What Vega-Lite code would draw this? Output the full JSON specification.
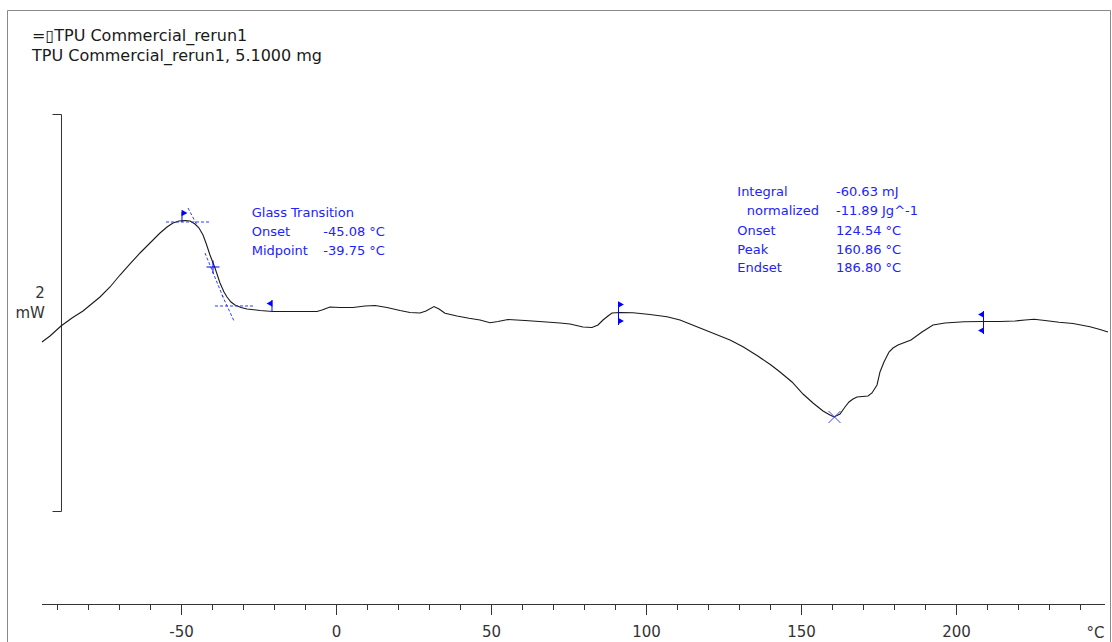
{
  "$schema": "https://vega.github.io/schema/vega-lite/v6.json",
  "width": 1103,
  "height": 632,
  "padding": {"left": 7, "top": 10, "right": 2, "bottom": 0},
  "autosize": {"type": "none"},
  "background": "white",
  "config": {"view": {"stroke": "#8a8a8a", "strokeWidth": 1}},
  "title": {
    "text": ["=▯TPU Commercial_rerun1", "TPU Commercial_rerun1, 5.1000 mg"],
    "anchor": "start", "frame": "group", "orient": "top", "offset": -45,
    "baseline": "top", "dx": 25, "dy": 9,
    "font": "DejaVu Sans", "fontSize": 16, "fontWeight": "normal", "color": "#1a1a1a", "lineHeight": 20
  },
  "datasets": {
    "curve": [
      {"t": -94.84, "v": -0.1461}, {"t": -92.26, "v": -0.1159}, {"t": -88.71, "v": -0.0655}, {"t": -85.16, "v": -0.0252},
      {"t": -81.61, "v": 0.0101}, {"t": -76.13, "v": 0.0806}, {"t": -72.90, "v": 0.1310}, {"t": -69.68, "v": 0.1914},
      {"t": -66.45, "v": 0.2469}, {"t": -63.23, "v": 0.3023}, {"t": -60.00, "v": 0.3526}, {"t": -56.77, "v": 0.4030},
      {"t": -54.52, "v": 0.4332}, {"t": -52.58, "v": 0.4534}, {"t": -50.65, "v": 0.4635}, {"t": -48.71, "v": 0.4660},
      {"t": -47.10, "v": 0.4635}, {"t": -45.48, "v": 0.4484}, {"t": -44.19, "v": 0.4282}, {"t": -42.90, "v": 0.3929},
      {"t": -41.94, "v": 0.3526}, {"t": -40.65, "v": 0.2922}, {"t": -39.03, "v": 0.2267}, {"t": -37.42, "v": 0.1511},
      {"t": -36.13, "v": 0.1058}, {"t": -35.16, "v": 0.0806}, {"t": -33.87, "v": 0.0554}, {"t": -32.58, "v": 0.0403},
      {"t": -30.65, "v": 0.0277}, {"t": -28.71, "v": 0.0202}, {"t": -24.52, "v": 0.0126}, {"t": -20.32, "v": 0.0076},
      {"t": -14.84, "v": 0.0076}, {"t": -6.13, "v": 0.0076}, {"t": -4.52, "v": 0.0151}, {"t": -1.94, "v": 0.0302},
      {"t": 1.29, "v": 0.0277}, {"t": 5.48, "v": 0.0277}, {"t": 9.35, "v": 0.0353}, {"t": 12.58, "v": 0.0378},
      {"t": 16.45, "v": 0.0277}, {"t": 20.65, "v": 0.0126}, {"t": 23.87, "v": 0.0025}, {"t": 27.10, "v": 0.0},
      {"t": 29.03, "v": 0.0101}, {"t": 31.61, "v": 0.0327}, {"t": 33.23, "v": 0.0202}, {"t": 35.16, "v": -0.0015},
      {"t": 39.03, "v": -0.0151}, {"t": 42.90, "v": -0.0267}, {"t": 46.45, "v": -0.0353}, {"t": 49.68, "v": -0.0489},
      {"t": 52.26, "v": -0.0428}, {"t": 55.48, "v": -0.0327}, {"t": 60.97, "v": -0.0378}, {"t": 66.77, "v": -0.0438},
      {"t": 72.26, "v": -0.0504}, {"t": 75.48, "v": -0.0554}, {"t": 79.68, "v": -0.0705}, {"t": 82.58, "v": -0.0730},
      {"t": 84.52, "v": -0.0605}, {"t": 86.13, "v": -0.0353}, {"t": 87.74, "v": -0.0151}, {"t": 89.03, "v": 0.0},
      {"t": 91.61, "v": 0.0025}, {"t": 95.81, "v": 0.0015}, {"t": 101.29, "v": -0.0076}, {"t": 106.77, "v": -0.0186},
      {"t": 110.97, "v": -0.0353}, {"t": 114.19, "v": -0.0554}, {"t": 117.42, "v": -0.0756}, {"t": 122.26, "v": -0.1058},
      {"t": 127.10, "v": -0.1360}, {"t": 131.29, "v": -0.1698}, {"t": 135.81, "v": -0.2141}, {"t": 140.32, "v": -0.2620},
      {"t": 143.23, "v": -0.2972}, {"t": 147.10, "v": -0.3476}, {"t": 150.65, "v": -0.4081}, {"t": 153.87, "v": -0.4534},
      {"t": 157.10, "v": -0.4937}, {"t": 159.35, "v": -0.5139}, {"t": 160.65, "v": -0.5239}, {"t": 162.58, "v": -0.5088},
      {"t": 164.19, "v": -0.4736}, {"t": 165.48, "v": -0.4484}, {"t": 166.77, "v": -0.4332}, {"t": 168.06, "v": -0.4232},
      {"t": 171.61, "v": -0.4181}, {"t": 172.90, "v": -0.4030}, {"t": 174.52, "v": -0.3627}, {"t": 175.48, "v": -0.2972},
      {"t": 176.77, "v": -0.2469}, {"t": 178.39, "v": -0.1965}, {"t": 179.68, "v": -0.1763}, {"t": 181.29, "v": -0.1612},
      {"t": 185.48, "v": -0.1360}, {"t": 189.03, "v": -0.0957}, {"t": 192.58, "v": -0.0605}, {"t": 196.45, "v": -0.0504},
      {"t": 202.58, "v": -0.0438}, {"t": 208.71, "v": -0.0428}, {"t": 214.19, "v": -0.0428}, {"t": 219.03, "v": -0.0403},
      {"t": 222.26, "v": -0.0353}, {"t": 225.16, "v": -0.0317}, {"t": 228.71, "v": -0.0378}, {"t": 233.23, "v": -0.0469},
      {"t": 237.74, "v": -0.0529}, {"t": 243.23, "v": -0.0690}, {"t": 246.45, "v": -0.0831}, {"t": 249.03, "v": -0.0957}
    ],
    "baseline": [{"t": -94.84, "v": -1.46851, "t2": 248.06, "v2": -1.46851}],
    "scalebar": [
      {"t": -88.55, "v": 1.0, "t2": -88.55, "v2": -1.0},
      {"t": -91.45, "v": 1.0, "t2": -88.55, "v2": 1.0},
      {"t": -91.45, "v": -1.0, "t2": -88.55, "v2": -1.0}
    ],
    "scalelabels": [
      {"t": -93.9, "v": 0.1008, "text": "2"},
      {"t": -93.9, "v": 0.0, "text": "mW"}
    ],
    "dashed": [
      {"t": -54.84, "v": 0.4585, "t2": -40.65, "v2": 0.4585},
      {"t": -47.74, "v": 0.5290, "t2": -44.52, "v2": 0.4332},
      {"t": -39.03, "v": 0.0353, "t2": -26.77, "v2": 0.0353},
      {"t": -36.77, "v": 0.0907, "t2": -32.90, "v2": -0.0403},
      {"t": -42.26, "v": 0.3023, "t2": -36.45, "v2": 0.0806}
    ],
    "flaglines": [
      {"t": -49.68, "v": 0.5088, "t2": -49.68, "v2": 0.4584},
      {"t": -20.65, "v": 0.0655, "t2": -20.65, "v2": 0.0076},
      {"t": 91.13, "v": 0.0554, "t2": 91.13, "v2": -0.0605},
      {"t": 208.87, "v": 0.0101, "t2": 208.87, "v2": -0.1058}
    ],
    "flagsright": [
      {"t": -49.68, "v": 0.5038},
      {"t": 91.13, "v": 0.0428},
      {"t": 91.13, "v": -0.0403}
    ],
    "flagsleft": [
      {"t": -20.65, "v": 0.0479},
      {"t": 208.87, "v": -0.0076},
      {"t": 208.87, "v": -0.0882}
    ],
    "peak": [{"t": 160.81, "v": -0.5239}],
    "midpoint": [{"t": -39.68, "v": 0.2317}],
    "notes": [
      {"t": -27.19, "v": 0.5023, "text": "Glass Transition"},
      {"t": -27.19, "v": 0.4065, "text": "Onset"},
      {"t": -4.10, "v": 0.4065, "text": "-45.08 °C"},
      {"t": -27.19, "v": 0.3123, "text": "Midpoint"},
      {"t": -4.10, "v": 0.3123, "text": "-39.75 °C"},
      {"t": 129.45, "v": 0.6111, "text": "Integral"},
      {"t": 132.48, "v": 0.5154, "text": "normalized"},
      {"t": 129.45, "v": 0.4131, "text": "Onset"},
      {"t": 129.45, "v": 0.3174, "text": "Peak"},
      {"t": 129.45, "v": 0.2252, "text": "Endset"},
      {"t": 161.29, "v": 0.6111, "text": "-60.63 mJ"},
      {"t": 161.29, "v": 0.5154, "text": "-11.89 Jg^-1"},
      {"t": 161.29, "v": 0.4131, "text": "124.54 °C"},
      {"t": 161.29, "v": 0.3174, "text": "160.86 °C"},
      {"t": 161.29, "v": 0.2252, "text": "186.80 °C"}
    ]
  },
  "encoding": {
    "x": {
      "field": "t", "type": "quantitative",
      "scale": {"domain": [-106.129, 249.677], "nice": false, "zero": false},
      "axis": {
        "values": [-90, -80, -70, -60, -50, -40, -30, -20, -10, 0, 10, 20, 30, 40, 50, 60, 70, 80, 90, 100, 110, 120, 130, 140, 150, 160, 170, 180, 190, 200, 210, 220, 230, 240],
        "labelExpr": "datum.value % 50 === 0 ? '' + datum.value : ''",
        "domain": false, "grid": false, "offset": -37.5,
        "tickColor": "#333333", "tickWidth": 1,
        "tickSize": {"condition": {"test": "datum.value % 50 === 0", "value": 10}, "value": 5},
        "labelFont": "DejaVu Sans", "labelFontSize": 15, "labelColor": "#333333",
        "labelBaseline": "middle", "labelPadding": 17, "labelFlush": false, "labelOverlap": false, "labelBound": false,
        "title": "°C", "titleFont": "DejaVu Sans", "titleFontSize": 15, "titleFontWeight": "normal", "titleColor": "#333333",
        "titleAlign": "right", "titleBaseline": "middle", "titleX": 1097, "titleY": 27.5, "titleAnchor": null
      }
    },
    "y": {
      "field": "v", "type": "quantitative",
      "scale": {"domain": [-1.65743, 1.52645], "nice": false, "zero": false},
      "axis": null
    }
  },
  "layer": [
    {
      "data": {"name": "baseline"},
      "mark": {"type": "rule", "color": "#333333", "strokeWidth": 1},
      "encoding": {"x2": {"field": "t2"}, "y2": {"field": "v2"}}
    },
    {
      "data": {"name": "scalebar"},
      "mark": {"type": "rule", "color": "#333333", "strokeWidth": 1},
      "encoding": {"x2": {"field": "t2"}, "y2": {"field": "v2"}}
    },
    {
      "data": {"name": "scalelabels"},
      "mark": {"type": "text", "align": "right", "baseline": "middle", "font": "DejaVu Sans", "fontSize": 15, "color": "#333333"},
      "encoding": {"text": {"field": "text"}}
    },
    {
      "data": {"name": "curve"},
      "mark": {"type": "line", "color": "#1a1a1a", "strokeWidth": 1.1},
      "encoding": {"order": {"field": "t", "type": "quantitative"}}
    },
    {
      "data": {"name": "dashed"},
      "mark": {"type": "rule", "color": "#2a3cff", "strokeWidth": 1, "strokeDash": [3, 2]},
      "encoding": {"x2": {"field": "t2"}, "y2": {"field": "v2"}}
    },
    {
      "data": {"name": "flaglines"},
      "mark": {"type": "rule", "color": "#0000ff", "strokeWidth": 1},
      "encoding": {"x2": {"field": "t2"}, "y2": {"field": "v2"}}
    },
    {
      "data": {"name": "flagsright"},
      "mark": {"type": "point", "shape": "triangle-right", "filled": true, "color": "#0000ff", "size": 45, "opacity": 1, "xOffset": 2.5}
    },
    {
      "data": {"name": "flagsleft"},
      "mark": {"type": "point", "shape": "triangle-left", "filled": true, "color": "#0000ff", "size": 45, "opacity": 1, "xOffset": -2.5}
    },
    {
      "data": {"name": "peak"},
      "mark": {"type": "point", "shape": "M-1,-1L1,1M-1,1L1,-1", "filled": false, "color": "#3344ff", "size": 144, "strokeWidth": 1, "opacity": 1}
    },
    {
      "data": {"name": "midpoint"},
      "mark": {"type": "point", "shape": "M-1,0L1,0M0,-1L0,1", "filled": false, "color": "#0000ff", "size": 169, "strokeWidth": 1, "opacity": 1}
    },
    {
      "data": {"name": "notes"},
      "mark": {"type": "text", "align": "left", "baseline": "middle", "font": "DejaVu Sans", "fontSize": 13, "color": "#2222ff"},
      "encoding": {"text": {"field": "text"}}
    }
  ]
}
